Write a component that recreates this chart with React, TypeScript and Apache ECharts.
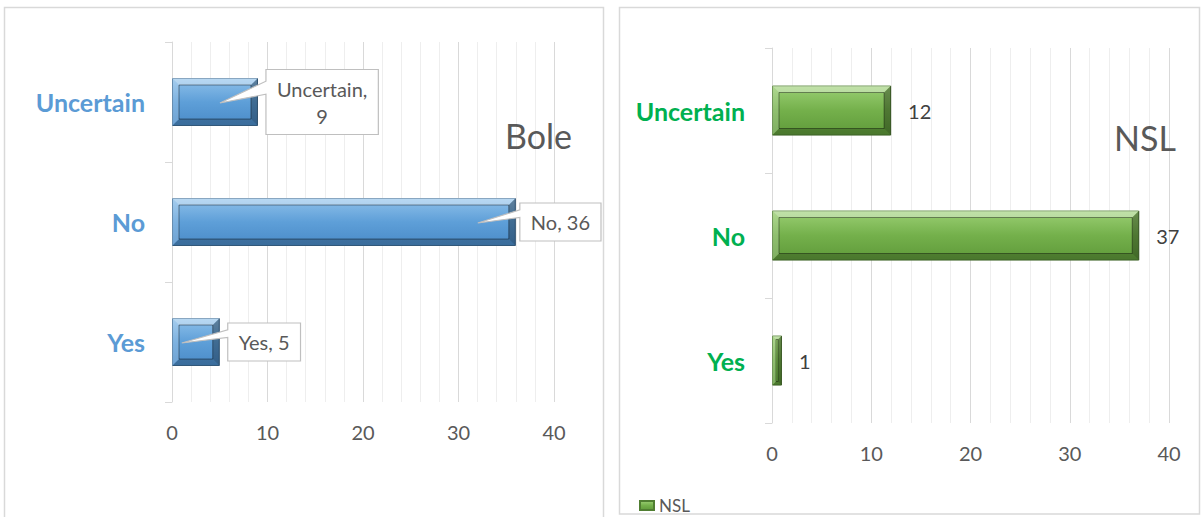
import React, { useEffect, useRef } from 'react';
import * as echarts from 'echarts';

const categories = ['Yes', 'No', 'Uncertain'];
const boleValues = [5, 36, 9];
const nslValues = [1, 37, 12];
const xMin = 0;
const xMax = 40;
const xInterval = 10;
const boleTitle = 'Bole';
const nslTitle = 'NSL';

const FONT = 'Lato, "Noto Sans", sans-serif';
const LABEL_FONT_SIZE = 20;

function measure(text: string, font: string): number {
  const ctx = document.createElement('canvas').getContext('2d');
  if (!ctx) return text.length * 10;
  ctx.font = font;
  return ctx.measureText(text).width;
}

function calloutText(cat: string, v: number): string {
  const one = `${cat}, ${v}`;
  const w = measure(one, `${LABEL_FONT_SIZE}px Lato`);
  return w > 100 ? `${cat},\n${v}` : one;
}

function bevelItem(params: any, api: any) {
  const v = api.value(0);
  const ci = api.value(1);
  const start = api.coord([0, ci]);
  const end = api.coord([v, ci]);
  const h = api.size([0, 1])[1] * 0.4;
  const x0 = start[0];
  const x1 = end[0];
  const y0 = start[1] - h / 2;
  const y1 = start[1] + h / 2;
  const i = Math.max(1, Math.min(7, (x1 - x0) / 2 - 1, h / 2));
  return {
    type: 'group',
    children: [
      { type: 'polygon', shape: { points: [[x0, y0], [x1, y0], [x1 - i, y0 + i], [x0 + i, y0 + i]] }, style: { fill: 'rgba(255,255,255,0.38)' } },
      { type: 'polygon', shape: { points: [[x0, y1], [x1, y1], [x1 - i, y1 - i], [x0 + i, y1 - i]] }, style: { fill: 'rgba(0,0,0,0.22)' } },
      { type: 'polygon', shape: { points: [[x0, y0], [x0 + i, y0 + i], [x0 + i, y1 - i], [x0, y1]] }, style: { fill: 'rgba(255,255,255,0.2)' } },
      { type: 'polygon', shape: { points: [[x1, y0], [x1 - i, y0 + i], [x1 - i, y1 - i], [x1, y1]] }, style: { fill: 'rgba(0,0,0,0.32)' } },
      { type: 'rect', shape: { x: x0 + i, y: y0 + i, width: Math.max(0, x1 - x0 - 2 * i), height: Math.max(0, h - 2 * i) }, style: { fill: 'none', stroke: 'rgba(0,0,0,0.4)', lineWidth: 1 } },
    ],
  };
}

function makeCalloutItem(labels: string[]) {
  return function (params: any, api: any) {
    const v = api.value(0);
    const ci = api.value(1);
    const start = api.coord([0, ci]);
    const end = api.coord([v, ci]);
    const text = labels[params.dataIndex];
    const lines = text.split('\n');
    const tw = Math.max(...lines.map((l) => measure(l, `${LABEL_FONT_SIZE}px Lato`)));
    const lineH = 27;
    const w = tw + 22;
    const H = lines.length * lineH + 11;
    const cs = params.coordSys;
    const limit = cs.x + cs.width + 47;
    const L = Math.min(end[0] + 8, limit - w);
    const cy = end[1];
    const T = cy - H / 2;
    const R = L + w;
    const B = T + H;
    const wb1 = T + H * 0.18;
    const wb2 = T + H * 0.38;
    const tipX = Math.max(start[0] + 9, end[0] - 38);
    const tipY = cy + 1;
    return {
      type: 'group',
      children: [
        {
          type: 'polygon',
          shape: { points: [[L, T], [R, T], [R, B], [L, B], [L, wb2], [tipX, tipY], [L, wb1]] },
          style: { fill: '#ffffff', stroke: '#BFBFBF', lineWidth: 1.2 },
        },
        {
          type: 'text',
          style: {
            text,
            x: L + w / 2,
            y: cy,
            align: 'center',
            verticalAlign: 'middle',
            fill: '#595959',
            font: `${LABEL_FONT_SIZE}px Lato`,
            lineHeight: lineH,
          },
        },
      ],
    };
  };
}

function xAxisCfg(gridIndex: number) {
  return {
    type: 'value',
    gridIndex,
    min: xMin,
    max: xMax,
    interval: xInterval,
    axisLine: { show: false },
    axisTick: { show: false },
    axisLabel: { color: '#595959', fontSize: 20, fontFamily: FONT, margin: 20 },
    splitLine: { show: true, lineStyle: { color: '#D9D9D9', width: 1 } },
    minorTick: { show: false, splitNumber: 5 },
    minorSplitLine: { show: true, lineStyle: { color: '#EEEEEE', width: 1 } },
  };
}

function yAxisCfg(gridIndex: number, color: string) {
  return {
    type: 'category',
    gridIndex,
    data: categories,
    axisLine: { show: true, lineStyle: { color: '#D9D9D9', width: 1 } },
    axisTick: { show: true, length: 7, lineStyle: { color: '#D9D9D9' } },
    axisLabel: { color, fontSize: 25, fontWeight: 'bold', fontFamily: FONT, margin: 27 },
    splitLine: { show: false },
  };
}

export default function App() {
  const ref = useRef<HTMLDivElement>(null);
  useEffect(() => {
    if (!ref.current) return;
    const chart = echarts.init(ref.current, null, { renderer: 'svg' });
    const boleLabels = categories.map((c, i) => calloutText(c, boleValues[i]));
    const blueGrad = new echarts.graphic.LinearGradient(0, 0, 0, 1, [
      { offset: 0, color: '#8EC0EA' },
      { offset: 0.5, color: '#5E9FD8' },
      { offset: 1, color: '#4A8BC8' },
    ]);
    const greenGrad = new echarts.graphic.LinearGradient(0, 0, 0, 1, [
      { offset: 0, color: '#9ACF73' },
      { offset: 0.5, color: '#74B04B' },
      { offset: 1, color: '#5F9A3A' },
    ]);
    chart.setOption({
      animation: false,
      textStyle: { fontFamily: FONT },
      title: [
        { text: boleTitle, left: 500, top: 113, textStyle: { fontSize: 34, fontWeight: 'normal', color: '#595959', fontFamily: FONT } },
        { text: nslTitle, left: 1109, top: 115, textStyle: { fontSize: 34, fontWeight: 'normal', color: '#595959', fontFamily: FONT } },
      ],
      legend: {
        data: ['NSL'],
        left: 634,
        top: 492,
        icon: 'rect',
        itemWidth: 14,
        itemHeight: 9,
        itemGap: 6,
        textStyle: { fontSize: 17, color: '#595959', fontFamily: FONT },
      },
      grid: [
        { left: 172, top: 42, width: 382, height: 360 },
        { left: 772, top: 48, width: 397, height: 375 },
      ],
      xAxis: [xAxisCfg(0), xAxisCfg(1)],
      yAxis: [yAxisCfg(0, '#5B9BD5'), yAxisCfg(1, '#00B050')],
      series: [
        {
          name: 'Bole',
          type: 'bar',
          xAxisIndex: 0,
          yAxisIndex: 0,
          data: boleValues,
          barWidth: '40%',
          z: 2,
          itemStyle: { color: blueGrad, borderColor: '#41719C', borderWidth: 1 },
        },
        {
          name: 'NSL',
          type: 'bar',
          xAxisIndex: 1,
          yAxisIndex: 1,
          data: nslValues,
          barWidth: '40%',
          z: 2,
          itemStyle: { color: greenGrad, borderColor: '#507E32', borderWidth: 1 },
          label: { show: true, position: 'right', distance: 17, color: '#404040', fontSize: 20, fontFamily: FONT },
        },
        {
          name: 'boleBevel',
          type: 'custom',
          xAxisIndex: 0,
          yAxisIndex: 0,
          z: 3,
          silent: true,
          renderItem: bevelItem,
          encode: { x: 0, y: 1 },
          data: boleValues.map((v, i) => [v, i]),
        },
        {
          name: 'nslBevel',
          type: 'custom',
          xAxisIndex: 1,
          yAxisIndex: 1,
          z: 3,
          silent: true,
          renderItem: bevelItem,
          encode: { x: 0, y: 1 },
          data: nslValues.map((v, i) => [v, i]),
        },
        {
          name: 'boleCallouts',
          type: 'custom',
          xAxisIndex: 0,
          yAxisIndex: 0,
          z: 5,
          silent: true,
          renderItem: makeCalloutItem(boleLabels),
          encode: { x: 0, y: 1 },
          data: boleValues.map((v, i) => [v, i]),
        },
      ],
      graphic: [
        { type: 'rect', z: 0, silent: true, shape: { x: 4.5, y: 7.5, width: 599, height: 520 }, style: { fill: 'none', stroke: '#D9D9D9', lineWidth: 1.5 } },
        { type: 'rect', z: 101, silent: true, shape: { x: 619.5, y: 7.5, width: 580, height: 506.5 }, style: { fill: 'none', stroke: '#D9D9D9', lineWidth: 1.5 } },
      ],
    });
    return () => chart.dispose();
  }, []);
  return <div ref={ref} style={{ position: 'fixed', left: 0, top: 0, width: 1202, height: 517, background: '#ffffff' }} />;
}
